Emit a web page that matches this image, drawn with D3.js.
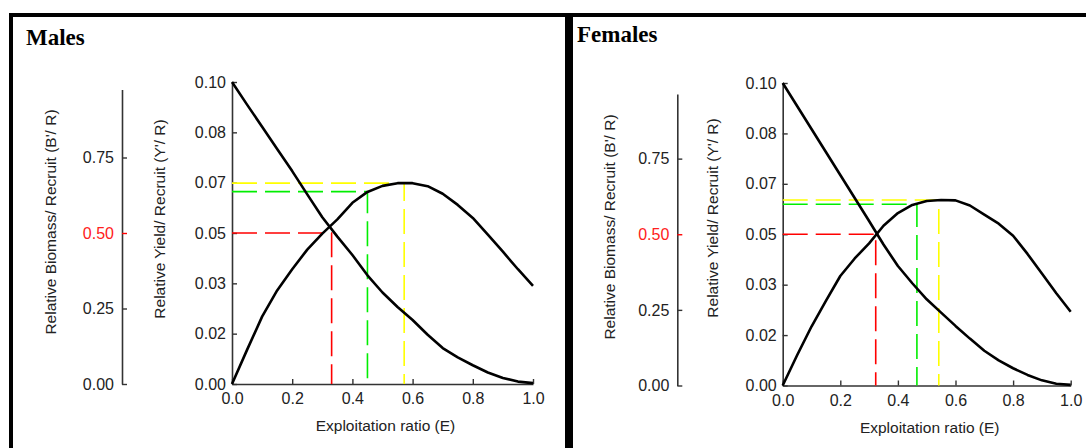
<!DOCTYPE html>
<html>
<head>
<meta charset="utf-8">
<script src="https://cdn.jsdelivr.net/npm/d3@7"></script>
<style>
  body { margin: 0; background: #fff; }
  svg { display: block; }
  .tick text { font-family: Arial, "Liberation Sans", sans-serif; }
</style>
</head>
<body>
<div id="chart"></div>
<script>
// Exploitation ratio (E) sampled along the curves
var exploitation = [0, 0.05, 0.1, 0.15, 0.2, 0.25, 0.3, 0.35, 0.4, 0.45, 0.5,
                    0.55, 0.6, 0.65, 0.7, 0.75, 0.8, 0.85, 0.9, 0.95, 1.0];

// Males
var malesYield   = [0, 0.0113, 0.0223, 0.0310, 0.0380, 0.0445, 0.0498, 0.0545, 0.0600, 0.0636, 0.0656,
                    0.0665, 0.0665, 0.0655, 0.0630, 0.0593, 0.0550, 0.0495, 0.0438, 0.0380, 0.0325];
var malesBiomass = [1.0, 0.925, 0.852, 0.778, 0.705, 0.628, 0.552, 0.488, 0.427, 0.360, 0.303,
                    0.255, 0.212, 0.163, 0.119, 0.088, 0.062, 0.038, 0.020, 0.008, 0.003];
// reference points: [E, Y'/R] for E0.5 (red), E0.1 (green), Emax (yellow)
var malesRefs = [[0.331, 0.05], [0.45, 0.0637], [0.572, 0.0665]];

// Females
var femalesYield   = [0, 0.0100, 0.0195, 0.0280, 0.0362, 0.0420, 0.0470, 0.0528, 0.0570, 0.0597, 0.0610,
                      0.0613, 0.0612, 0.0595, 0.0565, 0.0535, 0.0495, 0.0435, 0.0370, 0.0305, 0.0244];
var femalesBiomass = [1.0, 0.924, 0.848, 0.772, 0.696, 0.620, 0.544, 0.466, 0.395, 0.338, 0.285,
                      0.241, 0.197, 0.155, 0.115, 0.083, 0.057, 0.035, 0.017, 0.006, 0.002];
var femalesRefs = [[0.323, 0.05], [0.466, 0.0599], [0.542, 0.0613]];

var refColors = ["#ff0000", "#00ee00", "#ffff00"];

// tick values
var yieldTicks   = [0, 0.01667, 0.03333, 0.05, 0.06667, 0.08333, 0.10];
var biomassTicks = [0, 0.25, 0.50, 0.75];
var eTicks       = [0, 0.2, 0.4, 0.6, 0.8, 1.0];

var W = 1086, H = 448;
var svg = d3.select("#chart").append("svg").attr("width", W).attr("height", H);

// frame lines
svg.append("rect").attr("x", 9).attr("y", 13).attr("width", W - 9).attr("height", 4).attr("fill", "#000");
svg.append("rect").attr("x", 9).attr("y", 13).attr("width", 4).attr("height", H).attr("fill", "#000");
svg.append("rect").attr("x", 565).attr("y", 13).attr("width", 8).attr("height", H).attr("fill", "#000");

function drawPanel(cfg) {
  var g = svg.append("g");

  g.append("text")
    .attr("x", cfg.titleX).attr("y", cfg.titleY)
    .attr("font-family", "'Liberation Serif', 'Times New Roman', serif")
    .attr("font-weight", "bold").attr("font-size", 23)
    .attr("fill", "#000")
    .text(cfg.title);

  var x = d3.scaleLinear().domain([0, 1]).range([cfg.x0, cfg.x1]);
  var y = d3.scaleLinear().domain([0, 0.1]).range([cfg.y0, cfg.y1]);
  var yb = d3.scaleLinear().domain([0, 1]).range([cfg.y0, cfg.y1]);

  // left biomass axis
  var bAxis = g.append("g")
    .attr("transform", "translate(" + cfg.bx + ",0)")
    .call(d3.axisLeft(yb.copy().domain([0, cfg.bTop]).range([cfg.y0, yb(cfg.bTop)]))
      .tickValues(biomassTicks).tickFormat(d3.format(".2f"))
      .tickSizeInner(-5).tickSizeOuter(0).tickPadding(8));

  // yield axis
  var yAxis = g.append("g")
    .attr("transform", "translate(" + cfg.x0 + ",0)")
    .call(d3.axisLeft(y).tickValues(yieldTicks).tickFormat(d3.format(".2f"))
      .tickSizeInner(-5).tickSizeOuter(0).tickPadding(6));

  // x axis
  var xAxis = g.append("g")
    .attr("transform", "translate(0," + cfg.y0 + ")")
    .call(d3.axisBottom(x).tickValues(eTicks).tickFormat(d3.format(".1f"))
      .tickSizeInner(-5).tickSizeOuter(0).tickPadding(9));

  [bAxis, yAxis, xAxis].forEach(function(a){
    a.selectAll("text").attr("font-size", 16).attr("fill", "#222");
    a.select(".domain").attr("stroke", "#333").attr("stroke-width", 1.6);
    a.selectAll(".tick line").attr("stroke", "#333").attr("stroke-width", 1.4);
  });

  // 0.50 on the biomass axis is highlighted in red
  var half = bAxis.selectAll(".tick").filter(function(d){ return d === 0.5; });
  half.select("text").attr("fill", "#ff2020");
  half.select("line").attr("stroke", "#ff0000");

  // axis titles
  var font = "Arial, 'Liberation Sans', sans-serif";
  g.append("text")
    .attr("transform", "translate(" + cfg.bTitleX + "," + cfg.bTitleY + ") rotate(-90)")
    .attr("text-anchor", "middle").attr("font-family", font).attr("font-size", 15.5).attr("fill", "#222")
    .text("Relative Biomass/ Recruit (B'/ R)");
  g.append("text")
    .attr("transform", "translate(" + cfg.yTitleX + "," + cfg.yTitleY + ") rotate(-90)")
    .attr("text-anchor", "middle").attr("font-family", font).attr("font-size", 15.5).attr("fill", "#222")
    .text("Relative Yield/ Recruit (Y'/ R)");
  g.append("text")
    .attr("x", (cfg.x0 + cfg.x1) / 2 + 3).attr("y", cfg.xTitleY)
    .attr("text-anchor", "middle").attr("font-family", font).attr("font-size", 15.5).attr("fill", "#222")
    .text("Exploitation ratio (E)");

  // reference dashed lines
  cfg.refs.forEach(function(r, i){
    g.append("path")
      .attr("d", d3.line()([[x(0), y(r[1])], [x(r[0]), y(r[1])], [x(r[0]), y(0)]]))
      .attr("fill", "none").attr("stroke", refColors[i]).attr("stroke-width", 1.6)
      .attr("stroke-dasharray", "25,8");
  });

  // curves
  var yieldLine = d3.line().x(function(d, i){ return x(exploitation[i]); }).y(function(d){ return y(d); });
  var bioLine = d3.line().x(function(d, i){ return x(exploitation[i]); }).y(function(d){ return yb(d); });
  g.append("path").attr("d", bioLine(cfg.biomass))
    .attr("fill", "none").attr("stroke", "#000").attr("stroke-width", 2.6).attr("stroke-linejoin", "round");
  g.append("path").attr("d", yieldLine(cfg.yield))
    .attr("fill", "none").attr("stroke", "#000").attr("stroke-width", 2.6).attr("stroke-linejoin", "round");
}

drawPanel({
  title: "Males", titleX: 26, titleY: 45,
  x0: 232, x1: 533, y0: 384, y1: 82,
  bx: 122, bTop: 0.975,
  bTitleX: 56, bTitleY: 222, yTitleX: 165, yTitleY: 219, xTitleY: 431,
  yield: malesYield, biomass: malesBiomass, refs: malesRefs
});

drawPanel({
  title: "Females", titleX: 577, titleY: 42,
  x0: 782.7, x1: 1070.7, y0: 385.5, y1: 83,
  bx: 677.3, bTop: 0.964,
  bTitleX: 615, bTitleY: 227, yTitleX: 718, yTitleY: 218, xTitleY: 433,
  yield: femalesYield, biomass: femalesBiomass, refs: femalesRefs
});
</script>
</body>
</html>
